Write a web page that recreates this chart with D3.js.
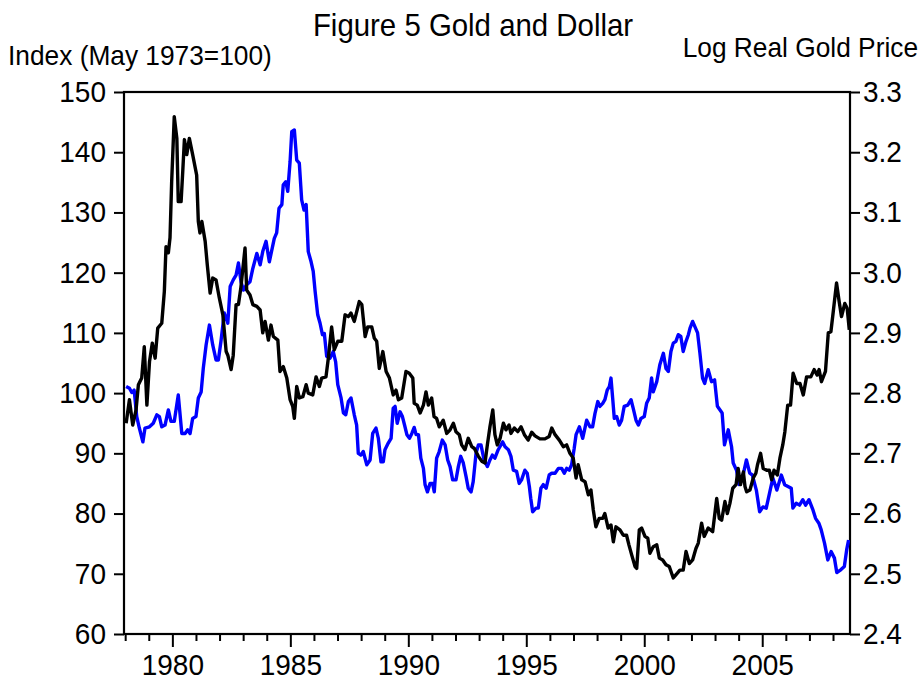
<!DOCTYPE html>
<html>
<head>
<meta charset="utf-8">
<script src="https://cdn.jsdelivr.net/npm/d3@7"></script>
<style>
  body { margin: 0; background: #fff; }
  text { font-family: "Liberation Sans", Arial, sans-serif; fill: #000; }
</style>
</head>
<body>
<div id="chart"></div>
<script>
// Dollar index (left axis, May 1973 = 100)
const dollarYears = [1978.04,1978.18,1978.28,1978.38,1978.49,1978.60,1978.75,1978.84,1979.03,1979.19,1979.34,1979.45,1979.55,1979.69,1979.83,1979.94,1980.08,1980.25,1980.40,1980.54,1980.65,1980.75,1980.86,1981.00,1981.10,1981.22,1981.31,1981.43,1981.57,1981.71,1981.85,1981.95,1982.06,1982.20,1982.35,1982.45,1982.58,1982.70,1982.80,1982.91,1983.01,1983.15,1983.29,1983.41,1983.58,1983.72,1983.83,1983.97,1984.11,1984.32,1984.42,1984.52,1984.64,1984.70,1984.81,1984.89,1984.99,1985.06,1985.17,1985.27,1985.38,1985.48,1985.58,1985.67,1985.76,1985.88,1985.97,1986.05,1986.16,1986.26,1986.36,1986.44,1986.54,1986.68,1986.82,1986.92,1987.01,1987.15,1987.25,1987.35,1987.46,1987.57,1987.71,1987.81,1987.88,1987.99,1988.09,1988.24,1988.38,1988.49,1988.63,1988.73,1988.84,1988.94,1989.01,1989.15,1989.27,1989.36,1989.44,1989.53,1989.65,1989.75,1989.84,1989.94,1990.05,1990.15,1990.25,1990.33,1990.43,1990.53,1990.64,1990.71,1990.81,1990.92,1991.03,1991.10,1991.20,1991.31,1991.44,1991.56,1991.67,1991.77,1991.88,1992.02,1992.12,1992.22,1992.33,1992.45,1992.54,1992.66,1992.75,1992.87,1992.97,1993.08,1993.21,1993.35,1993.46,1993.56,1993.67,1993.81,1994.00,1994.10,1994.24,1994.35,1994.45,1994.59,1994.70,1994.80,1994.94,1995.04,1995.13,1995.19,1995.27,1995.41,1995.51,1995.62,1995.72,1995.84,1995.97,1996.08,1996.22,1996.36,1996.50,1996.61,1996.71,1996.82,1996.92,1997.03,1997.11,1997.25,1997.39,1997.56,1997.70,1997.81,1997.91,1998.03,1998.12,1998.24,1998.33,1998.43,1998.52,1998.59,1998.66,1998.73,1998.83,1998.94,1999.04,1999.15,1999.30,1999.44,1999.53,1999.65,1999.75,1999.86,2000.00,2000.10,2000.21,2000.31,2000.38,2000.53,2000.66,2000.81,2000.92,2001.02,2001.13,2001.23,2001.34,2001.44,2001.55,2001.65,2001.77,2001.87,2001.94,2002.05,2002.15,2002.26,2002.36,2002.47,2002.56,2002.71,2002.85,2002.98,2003.10,2003.30,2003.40,2003.56,2003.70,2003.77,2003.91,2004.02,2004.16,2004.33,2004.47,2004.58,2004.75,2004.89,2005.03,2005.17,2005.31,2005.45,2005.62,2005.81,2005.95,2006.09,2006.23,2006.30,2006.44,2006.58,2006.72,2006.84,2006.98,2007.15,2007.26,2007.40,2007.50,2007.64,2007.78,2007.92,2008.06,2008.16,2008.34,2008.48,2008.58,2008.66];
const dollarIndex = [101.1,100.8,100.1,100.5,96.1,94.2,91.9,94.2,94.4,95.0,96.4,96.1,94.4,94.7,97.2,95.3,95.3,99.7,93.3,93.3,93.9,93.3,95.8,96.1,99.2,100.2,104.1,108.0,111.3,108.0,105.5,105.5,108.6,113.3,111.6,117.7,118.8,119.6,121.6,118.5,117.1,118.0,118.5,120.7,123.2,121.3,123.5,125.2,121.8,125.7,126.6,130.7,131.3,134.6,135.1,133.5,138.5,143.4,143.7,138.7,138.2,132.1,130.4,131.3,123.5,121.8,120.2,116.9,113.0,111.6,109.7,109.9,106.1,105.8,106.9,105.2,101.4,99.2,96.7,96.4,98.6,99.2,96.4,94.7,90.0,89.7,90.3,88.1,88.9,93.3,94.2,92.5,88.6,88.6,90.6,91.7,92.5,97.5,97.8,95.0,96.9,96.1,94.7,93.1,92.5,93.3,94.3,93.1,93.1,89.2,87.5,84.8,83.6,85.0,85.0,83.6,89.2,90.3,92.2,91.4,88.9,87.8,85.6,85.6,87.8,89.5,88.4,86.1,84.2,83.6,85.3,90.0,91.4,91.4,88.9,87.8,88.9,89.7,89.2,90.6,91.9,91.1,90.6,89.5,87.2,87.0,85.0,85.6,87.2,86.7,84.5,82.5,80.3,80.9,80.9,84.2,84.8,84.2,86.4,86.7,86.7,87.5,87.5,86.7,87.5,87.2,88.1,90.8,93.1,94.4,92.5,95.5,94.4,94.4,96.6,98.6,97.8,98.3,98.9,100.5,101.1,102.5,99.2,95.8,96.1,94.7,95.5,97.8,98.0,98.9,97.5,95.5,94.7,95.8,96.1,98.3,99.2,102.5,100.2,101.9,104.7,106.6,104.1,103.6,106.9,108.3,108.6,109.7,109.4,106.9,108.6,109.7,110.8,111.9,111.0,110.0,106.6,102.5,101.6,103.9,101.9,102.2,97.8,96.7,91.4,93.9,91.1,88.4,87.2,84.8,85.9,88.9,86.7,86.4,83.9,80.3,81.1,80.9,83.4,85.9,83.9,86.4,84.8,84.5,84.2,80.9,81.7,81.4,82.3,81.4,82.3,80.6,79.2,78.4,77.3,75.1,72.3,73.7,72.6,70.2,70.7,71.2,74.0,75.6];

// Log real gold price (right axis)
const goldYears = [1978.04,1978.18,1978.32,1978.46,1978.56,1978.70,1978.81,1978.92,1979.03,1979.15,1979.27,1979.38,1979.55,1979.66,1979.73,1979.83,1979.90,1979.97,1980.08,1980.19,1980.25,1980.37,1980.44,1980.51,1980.61,1980.72,1980.86,1981.03,1981.10,1981.17,1981.25,1981.39,1981.48,1981.60,1981.71,1981.85,1981.99,1982.14,1982.28,1982.35,1982.49,1982.58,1982.70,1982.80,1982.90,1983.08,1983.15,1983.29,1983.41,1983.58,1983.72,1983.83,1983.93,1984.07,1984.18,1984.28,1984.47,1984.56,1984.70,1984.85,1984.99,1985.10,1985.17,1985.27,1985.38,1985.53,1985.67,1985.76,1985.95,1986.09,1986.23,1986.33,1986.51,1986.61,1986.75,1986.86,1987.01,1987.18,1987.32,1987.46,1987.57,1987.71,1987.92,1988.03,1988.17,1988.28,1988.45,1988.56,1988.66,1988.77,1988.92,1989.06,1989.20,1989.36,1989.48,1989.58,1989.72,1989.90,1990.04,1990.19,1990.25,1990.38,1990.50,1990.64,1990.75,1990.85,1990.99,1991.09,1991.20,1991.31,1991.48,1991.63,1991.77,1991.91,1992.02,1992.16,1992.26,1992.40,1992.54,1992.69,1992.80,1992.97,1993.11,1993.25,1993.35,1993.46,1993.58,1993.67,1993.77,1993.89,1994.03,1994.14,1994.27,1994.35,1994.49,1994.64,1994.78,1994.92,1995.08,1995.23,1995.37,1995.58,1995.79,1995.97,1996.08,1996.22,1996.40,1996.57,1996.71,1996.85,1996.99,1997.11,1997.20,1997.35,1997.49,1997.63,1997.74,1997.84,1997.95,1998.09,1998.24,1998.33,1998.47,1998.59,1998.69,1998.80,1998.97,1999.11,1999.25,1999.35,1999.47,1999.61,1999.68,1999.79,1999.89,2000.03,2000.15,2000.24,2000.38,2000.53,2000.64,2000.78,2000.92,2001.06,2001.23,2001.34,2001.51,2001.65,2001.77,2001.91,2002.05,2002.19,2002.29,2002.43,2002.54,2002.71,2002.90,2003.07,2003.18,2003.28,2003.42,2003.52,2003.63,2003.75,2003.89,2003.98,2004.08,2004.20,2004.27,2004.34,2004.48,2004.62,2004.73,2004.80,2004.93,2005.04,2005.19,2005.30,2005.40,2005.50,2005.64,2005.75,2005.87,2005.96,2006.08,2006.20,2006.31,2006.46,2006.60,2006.74,2006.88,2007.06,2007.20,2007.33,2007.41,2007.51,2007.68,2007.80,2007.91,2008.01,2008.15,2008.26,2008.36,2008.50,2008.60,2008.69];
const goldLog = [2.750,2.789,2.747,2.772,2.814,2.825,2.877,2.780,2.852,2.883,2.858,2.908,2.916,2.969,3.043,3.033,3.058,3.151,3.259,3.223,3.118,3.118,3.168,3.221,3.196,3.223,3.196,3.162,3.085,3.066,3.085,3.052,3.013,2.966,2.991,2.988,2.958,2.930,2.869,2.863,2.839,2.863,2.947,2.947,2.974,3.041,2.971,2.963,2.947,2.944,2.938,2.900,2.919,2.888,2.913,2.894,2.888,2.836,2.844,2.825,2.789,2.778,2.758,2.811,2.792,2.794,2.814,2.800,2.797,2.827,2.811,2.825,2.827,2.858,2.910,2.872,2.886,2.886,2.930,2.927,2.933,2.919,2.952,2.947,2.894,2.910,2.910,2.891,2.886,2.841,2.869,2.836,2.825,2.797,2.805,2.789,2.792,2.836,2.833,2.825,2.783,2.780,2.767,2.780,2.802,2.780,2.792,2.761,2.758,2.744,2.755,2.733,2.739,2.750,2.736,2.731,2.714,2.706,2.725,2.711,2.708,2.695,2.687,2.684,2.714,2.744,2.772,2.731,2.714,2.725,2.750,2.739,2.747,2.733,2.742,2.736,2.744,2.731,2.722,2.735,2.729,2.724,2.724,2.728,2.742,2.731,2.722,2.711,2.714,2.700,2.692,2.659,2.681,2.656,2.653,2.631,2.639,2.606,2.578,2.592,2.592,2.600,2.576,2.581,2.553,2.578,2.573,2.564,2.564,2.548,2.531,2.512,2.509,2.573,2.576,2.562,2.559,2.534,2.545,2.548,2.526,2.523,2.515,2.512,2.493,2.498,2.506,2.506,2.537,2.517,2.523,2.542,2.551,2.584,2.562,2.576,2.570,2.625,2.592,2.589,2.620,2.600,2.617,2.642,2.648,2.675,2.648,2.669,2.645,2.636,2.639,2.659,2.667,2.681,2.700,2.675,2.672,2.672,2.656,2.672,2.664,2.692,2.714,2.736,2.780,2.780,2.833,2.816,2.816,2.797,2.827,2.827,2.839,2.830,2.839,2.819,2.836,2.900,2.902,2.935,2.983,2.952,2.927,2.949,2.941,2.905];

const leftTicks = [60, 70, 80, 90, 100, 110, 120, 130, 140, 150];
const rightTicks = [2.4, 2.5, 2.6, 2.7, 2.8, 2.9, 3.0, 3.1, 3.2, 3.3];
const yearLabels = [1980, 1985, 1990, 1995, 2000, 2005];
const yearTicks = d3.range(1978, 2009);

const width = 923, height = 680;
const plot = { left: 124, right: 850, top: 92, bottom: 634 };
const tickFont = 28;

const svg = d3.select("#chart")
    .append("svg")
    .attr("width", width)
    .attr("height", height);

const x = d3.scaleLinear().domain([1977.95, 2008.72]).range([plot.left, plot.right]);
const yLeft = d3.scaleLinear().domain([60, 150]).range([plot.bottom, plot.top]);
const yRight = d3.scaleLinear().domain([2.4, 3.3]).range([plot.bottom, plot.top]);

// Left axis
const leftAxis = svg.append("g")
    .attr("transform", `translate(${plot.left},0)`)
    .call(d3.axisLeft(yLeft).tickValues(leftTicks).tickSize(10).tickPadding(8).tickSizeOuter(0));

// Right axis
const rightAxis = svg.append("g")
    .attr("transform", `translate(${plot.right},0)`)
    .call(d3.axisRight(yRight).tickValues(rightTicks).tickFormat(d3.format(".1f")).tickSize(10).tickPadding(3).tickSizeOuter(0));

// Bottom axis: minor ticks each year, longer ticks with labels every 5 years
const bottomAxis = svg.append("g")
    .attr("transform", `translate(0,${plot.bottom})`)
    .call(d3.axisBottom(x).tickValues(yearTicks)
        .tickSize(7)
        .tickFormat(d => yearLabels.includes(d) ? d : "")
        .tickSizeOuter(0));
bottomAxis.selectAll(".tick line")
    .attr("y2", d => yearLabels.includes(d) ? 13 : 7);
bottomAxis.selectAll(".tick text").attr("y", 19);

[leftAxis, rightAxis, bottomAxis].forEach(g => {
    g.select(".domain").remove();
    g.selectAll(".tick line").attr("stroke", "#000").attr("stroke-width", 2);
    g.selectAll(".tick text")
        .attr("font-size", tickFont)
        .attr("font-family", "'Liberation Sans', Arial, sans-serif")
        .attr("fill", "#000")
        .attr("transform", "scale(1,1.05)");
});

// Frame
svg.append("rect")
    .attr("x", plot.left)
    .attr("y", plot.top)
    .attr("width", plot.right - plot.left)
    .attr("height", plot.bottom - plot.top)
    .attr("fill", "none")
    .attr("stroke", "#000")
    .attr("stroke-width", 2.2);

svg.append("clipPath").attr("id", "plotClip")
    .append("rect")
    .attr("x", plot.left)
    .attr("y", plot.top)
    .attr("width", plot.right - plot.left)
    .attr("height", plot.bottom - plot.top);

const dollarLine = d3.line()
    .x((d, i) => x(dollarYears[i]))
    .y(d => yLeft(d));

const goldLine = d3.line()
    .x((d, i) => x(goldYears[i]))
    .y(d => yRight(d));

svg.append("path")
    .attr("clip-path", "url(#plotClip)")
    .attr("d", dollarLine(dollarIndex))
    .attr("fill", "none")
    .attr("stroke", "#0000ff")
    .attr("stroke-width", 3.4)
    .attr("stroke-linejoin", "round");

svg.append("path")
    .attr("clip-path", "url(#plotClip)")
    .attr("d", goldLine(goldLog))
    .attr("fill", "none")
    .attr("stroke", "#000")
    .attr("stroke-width", 3.4)
    .attr("stroke-linejoin", "round");

// Titles (slightly tall lettering, as in the original)
function label(txt, x0, y0, size, anchor) {
    svg.append("text")
        .attr("transform", `translate(${x0},${y0}) scale(1,1.06)`)
        .attr("text-anchor", anchor)
        .attr("font-size", size)
        .text(txt);
}
label("Figure 5 Gold and Dollar", 473, 36, 29.4, "middle");
label("Index (May 1973=100)", 8, 65, 26.3, "start");
label("Log Real Gold Price", 918, 57, 26.3, "end");
</script>
</body>
</html>
